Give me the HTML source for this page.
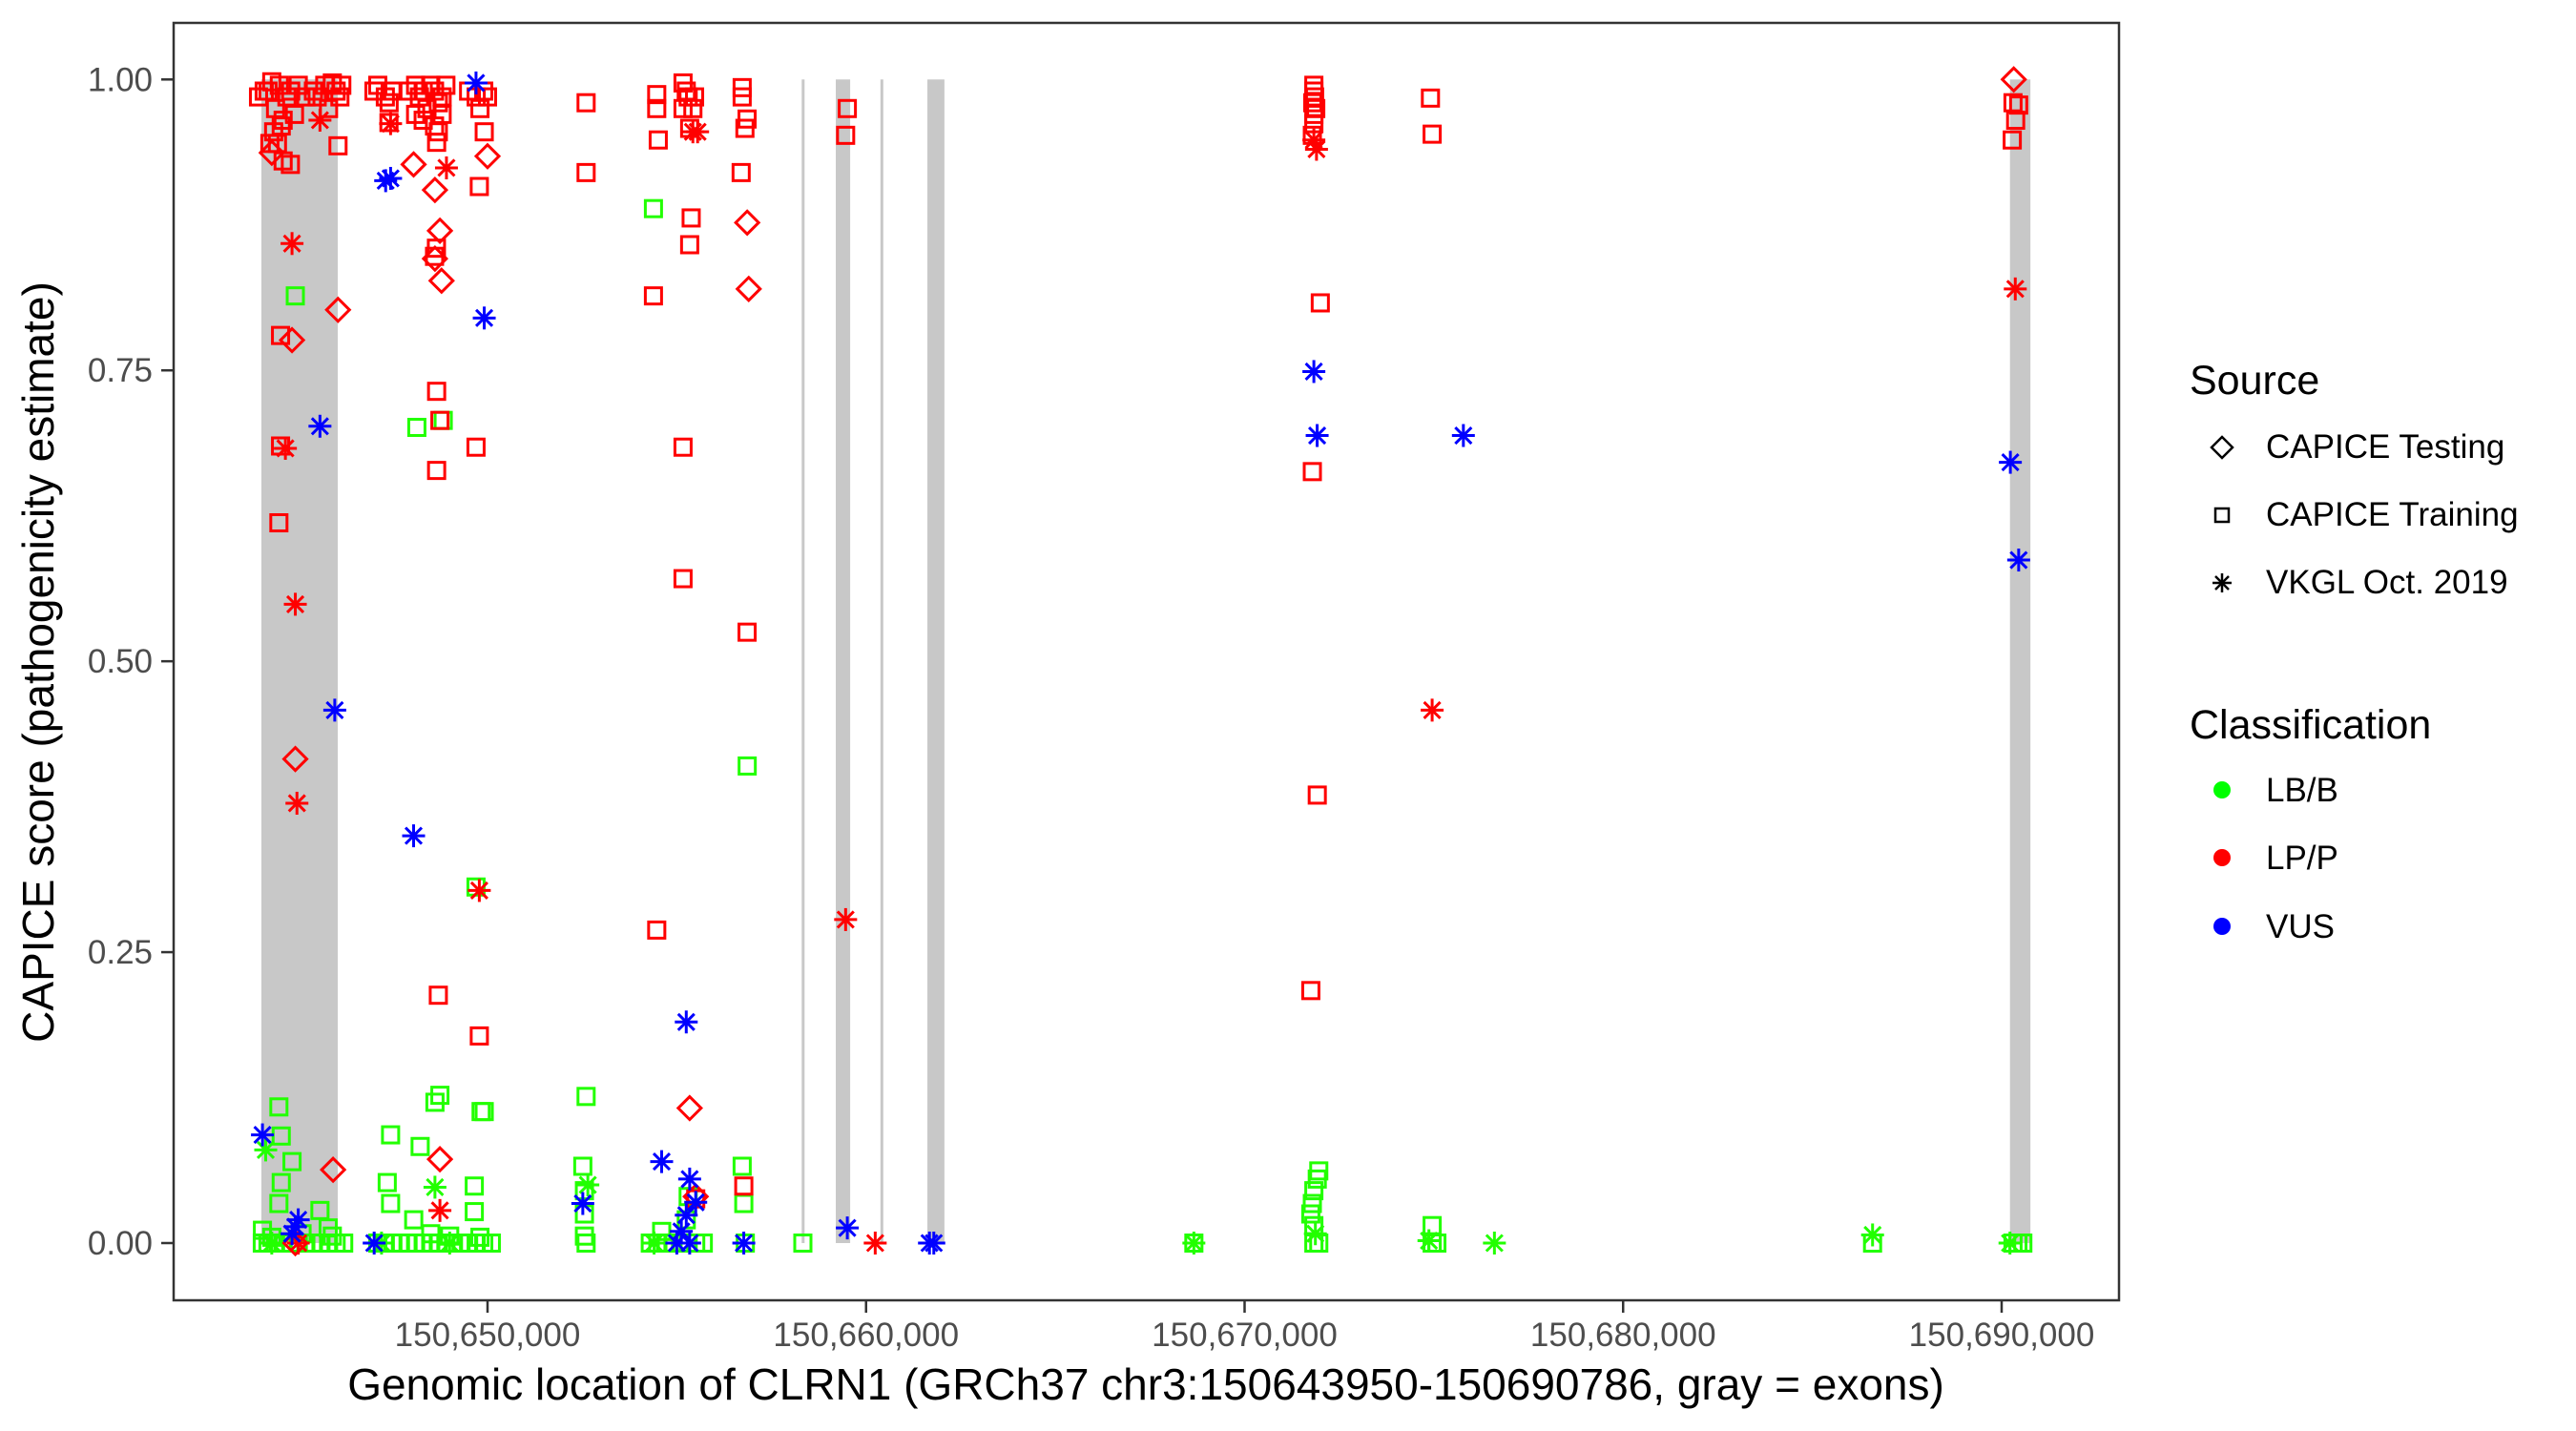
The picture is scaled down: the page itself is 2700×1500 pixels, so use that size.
<!DOCTYPE html>
<html><head><meta charset="utf-8"><style>
html,body{margin:0;padding:0;background:#fff;}
svg{display:block;font-family:"Liberation Sans",Arial,sans-serif;}
</style></head><body>
<svg id="chart" width="2700" height="1500" viewBox="0 0 2700 1500" xmlns="http://www.w3.org/2000/svg">
<rect width="2700" height="1500" fill="#fff"/>
<g id="exons"></g>
<g id="points"></g>
<rect x="182" y="24" width="2039" height="1339" fill="none" stroke="#333" stroke-width="2.5"/>
<g id="yaxis"></g>
<g id="xaxis"></g>
<text transform="translate(56,694) rotate(-90)" text-anchor="middle" font-size="46" fill="#000">CAPICE score (pathogenicity estimate)</text>
<text x="1201" y="1467" text-anchor="middle" font-size="46" fill="#000">Genomic location of CLRN1 (GRCh37 chr3:150643950-150690786, gray = exons)</text>
<g>
<text x="2295" y="413" font-size="43">Source</text>
<polygon points="2329,458 2340,469 2329,480 2318,469" fill="none" stroke="#000" stroke-width="2.5"/>
<text x="2375" y="480" font-size="35">CAPICE Testing</text>
<rect x="2322" y="533" width="14" height="14" fill="none" stroke="#000" stroke-width="2.5"/>
<text x="2375" y="551" font-size="35">CAPICE Training</text>
<g stroke="#000" stroke-width="2.5">
<line x1="2329" y1="601" x2="2329" y2="621"/><line x1="2319" y1="611" x2="2339" y2="611"/><line x1="2322" y1="604" x2="2336" y2="618"/><line x1="2336" y1="604" x2="2322" y2="618"/></g>
<text x="2375" y="622" font-size="35">VKGL Oct. 2019</text>
</g>
<g>
<text x="2295" y="774" font-size="43">Classification</text>
<circle cx="2329" cy="828" r="9" fill="#00ff00"/>
<text x="2375" y="840" font-size="35">LB/B</text>
<circle cx="2329" cy="899" r="9" fill="#ff0000"/>
<text x="2375" y="911" font-size="35">LP/P</text>
<circle cx="2329" cy="971" r="9" fill="#0000ff"/>
<text x="2375" y="983" font-size="35">VUS</text>
</g>
</svg>
<script>
// ---- data ----
const xTicks=[150650000,150660000,150670000,150680000,150690000];
const xTickLabels=["150,650,000","150,660,000","150,670,000","150,680,000","150,690,000"];
const yTicks=[0,0.25,0.5,0.75,1];
const yTickLabels=["0.00","0.25","0.50","0.75","1.00"];
const exonStart=[150644026,150658300,150659200,150660380,150661620,150690220];
const exonEnd=[150646043,150658360,150659580,150660440,150662070,150690760];
// CAPICE Training, LP/P
const trainLPPos=[643950,644100,644300,644400,644500,644600,644700,644800,644900,645000,644350,644450,644550,645400,645500,645700,645900,646000,646100,645800,646050,644600,644250,644532,644532,644488,644792,644200,645200,646150,
647000,647100,647300,647400,647500,647396,647900,648100,648200,648300,648400,648500,648600,648700,648800,648900,648100,648300,648600,648655,648700,649500,649700,649900,650000,649800,648655,648742,648655,648700,649783,649696,649783,649913,648600,648650,648800,
652604,652604,654470,654470,654510,654383,655165,655250,655165,655340,655470,655425,655300,655380,655340,655165,655165,654470,655500,
656727,656727,656857,656800,656700,656857,656770,659505,659460,
671830,671830,671850,671800,671880,671830,671830,671790,672000,671790,671750,671920,674910,674955,690300,690450,690370,690280];
const trainLPScore=[.985,.99,.998,.975,.995,.965,.985,.99,.97,.995,.955,.945,.96,.99,.985,.995,.997,.99,.985,.975,.943,.93,.945,.78,.685,.619,.927,.99,.985,.995,
.99,.995,.985,.98,.99,.963,.99,.995,.985,.99,.975,.995,.99,.98,.985,.995,.97,.965,.96,.946,.955,.99,.985,.99,.985,.975,.732,.707,.664,.213,.178,.684,.908,.955,.848,.855,.97,
.98,.92,.987,.975,.948,.814,.997,.99,.975,.958,.985,.975,.985,.881,.858,.684,.571,.269,.038,
.993,.985,.966,.958,.92,.525,.049,.975,.952,
.995,.99,.985,.98,.975,.97,.962,.952,.808,.663,.217,.385,.984,.953,.98,.978,.965,.948];
// CAPICE Training, LB/B
const trainLBPos=[644922,644488,644550,644835,644550,644488,644054,645573,645790,644050,644200,644400,644600,644800,645000,645200,645400,645600,645800,646000,646200,644300,645100,645900,
648133,648830,647439,648220,648611,648742,649696,649830,649913,647350,647439,648050,649650,649650,647100,647300,647500,647700,647900,648100,648300,648500,648700,648900,649100,649300,649500,649700,649900,650100,648500,649000,649800,
652604,652517,652560,652560,652560,652604,654383,654300,654500,654700,654900,655100,655300,655500,655700,654600,655300,655250,
656860,656727,656770,656810,658330,668660,671960,671920,671830,671790,671750,671830,671830,671960,674955,674955,675080,686590,690300,690430,690560];
const trainLBScore=[.814,.117,.092,.07,.052,.034,.011,.028,.013,0,0,0,0,0,0,0,0,0,0,0,0,.005,.008,.006,
.701,.707,.093,.083,.121,.127,.306,.113,.113,.052,.034,.02,.049,.027,0,0,0,0,0,0,0,0,0,0,0,0,0,0,0,0,.008,.006,.005,
.126,.066,.045,.025,.006,0,.889,0,0,0,0,0,0,0,0,.01,.04,.02,
.41,.066,.034,0,0,0,.062,.055,.045,.034,.025,.015,0,0,.015,0,0,0,0,0,0];
// CAPICE Testing, LP/P
const testLPPos=[644300,644835,646050,644922,645920,644922,648047,648611,648742,648611,648785,650000,648742,655340,655500,656860,656900,690320];
const testLPScore=[.937,.776,.802,.416,.063,0,.927,.905,.87,.846,.827,.934,.072,.116,.04,.877,.82,1.0];
// VKGL, LB/B
const vkLBPos=[644140,648611,652650,668660,671870,674870,676600,686590,690220,644300,647200,649000,654400];
const vkLBScore=[.08,.048,.05,0,.008,.002,0,.007,0,0,0,0,0];
// VKGL, LP/P
const vkLPPos=[645573,644835,644660,644922,644965,647439,648915,649783,648742,655425,655550,659460,660242,671830,671900,674955,690360,645000];
const vkLPScore=[.965,.859,.683,.549,.378,.962,.924,.303,.028,.955,.955,.278,0,.948,.94,.458,.82,0];
// VKGL, VUS
const vkVUSPos=[644054,644922,645000,644835,645573,645964,647309,647439,649696,649913,648047,647005,652517,654600,655250,655340,655250,655120,655340,655500,655000,656770,659505,661675,661790,671830,671917,675780,690230,690450];
const vkVUSScore=[.093,.014,.02,.008,.702,.458,.913,.915,.997,.795,.35,0,.034,.07,.19,.055,.024,.01,0,.035,0,0,.013,0,0,.749,.694,.694,.671,.587];

// ---- scales ----
const NS="http://www.w3.org/2000/svg";
function xs(bp){ if(bp<1e8) bp+=150000000; return 511+(bp-150650000)*0.039675; }
function ys(s){ return 1303-s*1219.7; }
function mk(tag,attrs,parent){const e=document.createElementNS(NS,tag);for(const k in attrs)e.setAttribute(k,attrs[k]);parent.appendChild(e);return e;}

const gEx=document.getElementById('exons');
for(let i=0;i<exonStart.length;i++){
  const x0=xs(exonStart[i]),x1=xs(exonEnd[i]);
  const r=mk('rect',{x:x0,y:ys(1),width:Math.max(3,x1-x0),height:ys(0)-ys(1),fill:'#c8c8c8'},gEx);
  
  
}

const gP=document.getElementById('points');
const GREEN='#22ff00',RED='#ff0000',BLUE='#0000ff';
function square(x,y,c){const e=mk('rect',{x:x-8.5,y:y-8.5,width:17,height:17,fill:'none',stroke:c,'stroke-width':3},gP);
  
  }
function diamond(x,y,c){const e=mk('polygon',{points:`${x},${y-12} ${x+12},${y} ${x},${y+12} ${x-12},${y}`,fill:'none',stroke:c,'stroke-width':3},gP);
  
  }
function aster(x,y,c){const g=mk('g',{stroke:c,'stroke-width':3},gP);
  
  
  const r=12,d=8.5;
  mk('line',{x1:x,y1:y-r,x2:x,y2:y+r},g);mk('line',{x1:x-r,y1:y,x2:x+r,y2:y},g);
  mk('line',{x1:x-d,y1:y-d,x2:x+d,y2:y+d},g);mk('line',{x1:x+d,y1:y-d,x2:x-d,y2:y+d},g);}
function draw(pos,sc,fn,c){for(let i=0;i<pos.length;i++)fn(xs(pos[i]),ys(sc[i]),c);}
draw(trainLBPos,trainLBScore,square,GREEN);
draw(vkLBPos,vkLBScore,aster,GREEN);
draw(trainLPPos,trainLPScore,square,RED);
draw(testLPPos,testLPScore,diamond,RED);
draw(vkLPPos,vkLPScore,aster,RED);
draw(vkVUSPos,vkVUSScore,aster,BLUE);

const gY=document.getElementById('yaxis');
for(let i=0;i<yTicks.length;i++){
  const y=ys(yTicks[i]);
  const l=mk('line',{x1:169,y1:y,x2:182,y2:y,stroke:'#333','stroke-width':2.5},gY);
  
  
  const t=mk('text',{x:160,y:y+12,'text-anchor':'end','font-size':35,fill:'#4d4d4d'},gY);
  t.textContent=yTickLabels[i];
  
  
}
const gX=document.getElementById('xaxis');
for(let i=0;i<xTicks.length;i++){
  const x=xs(xTicks[i]);
  const l=mk('line',{x1:x,y1:1363,x2:x,y2:1376,stroke:'#333','stroke-width':2.5},gX);
  
  
  const t=mk('text',{x:x,y:1411,'text-anchor':'middle','font-size':35,fill:'#4d4d4d'},gX);
  t.textContent=xTickLabels[i];
  
  
}
</script>
</body></html>
